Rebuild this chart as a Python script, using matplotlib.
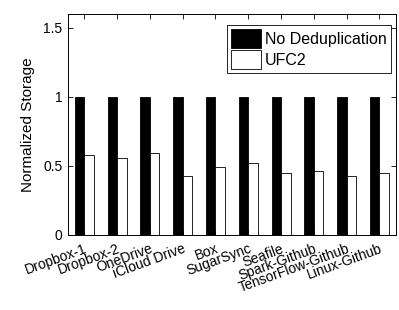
import numpy as np
import matplotlib
matplotlib.use('Agg')
import matplotlib.pyplot as plt

plt.rcParams['font.family'] = ['Liberation Sans', 'DejaVu Sans']

services = ['Dropbox-1', 'Dropbox-2', 'OneDrive', 'iCloud Drive', 'Box',
            'SugarSync', 'Seafile', 'Spark-Github', 'TensorFlow-Github', 'Linux-Github']
no_dedup = [1, 1, 1, 1, 1, 1, 1, 1, 1, 1]
ufc2 = [0.58, 0.56, 0.59, 0.43, 0.49, 0.52, 0.45, 0.46, 0.43, 0.45]

fig = plt.figure(figsize=(3.99, 3.10), dpi=100)
ax = fig.add_axes([0.170, 0.242, 0.822, 0.713])

x = np.arange(1, len(services) + 1)
w = 0.29
ax.bar(x - w / 2, no_dedup, w, color='black', edgecolor='black', linewidth=0.6,
       label='No Deduplication')
ax.bar(x + w / 2, ufc2, w, color='white', edgecolor='black', linewidth=0.6,
       label='UFC2')

ax.set_xlim(0.5, 10.5)
ax.set_ylim(0, 1.6)
ax.set_yticks([0, 0.5, 1, 1.5])
ax.set_yticklabels(['0', '0.5', '1', '1.5'])
ax.set_xticks(x)
ax.set_xticklabels(services, rotation=20, ha='right', va='top', rotation_mode='anchor')
ax.tick_params(direction='in', top=True, right=True, labelsize=10, length=3.5, width=0.6)
ax.tick_params(axis='x', pad=5)
ax.tick_params(axis='y', pad=4)
for s in ax.spines.values():
    s.set_linewidth(0.7)
ax.set_ylabel('Normalized Storage', fontsize=11, labelpad=6)

leg = ax.legend(loc='upper right', bbox_to_anchor=(0.985, 0.95), fontsize=11.5,
                fancybox=False, framealpha=1, edgecolor='black',
                handlelength=1.9, handleheight=1.45, handletextpad=0.25,
                borderpad=0.25, labelspacing=0.15, borderaxespad=0)
leg.get_frame().set_linewidth(0.6)

fig.savefig('out.png', dpi=100)
